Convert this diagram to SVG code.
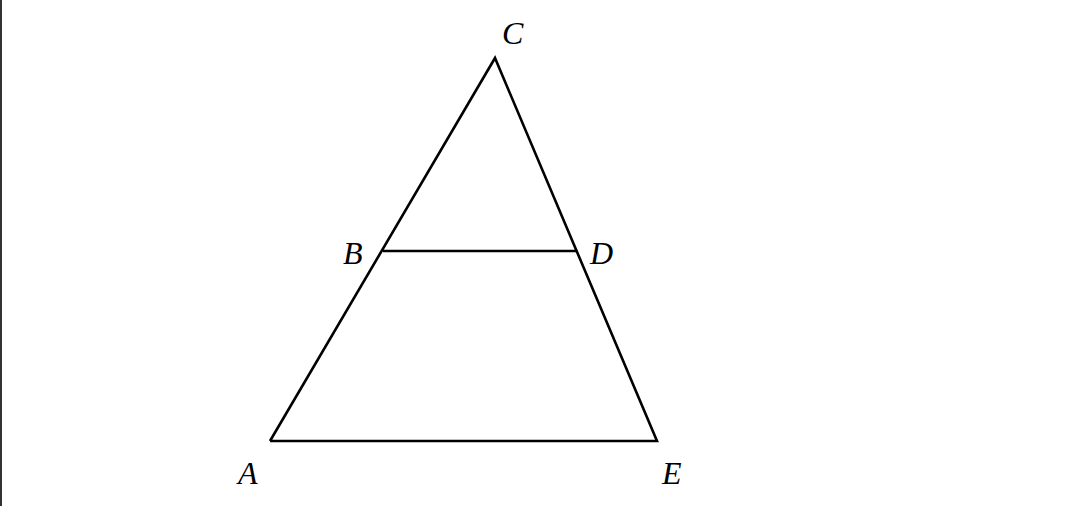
<svg xmlns="http://www.w3.org/2000/svg" width="1080" height="517" viewBox="0 0 1080 517">
<style>
.l{stroke:#000;stroke-width:2.6;fill:none;stroke-linejoin:miter}
.t{font-family:"Liberation Serif","Times New Roman",serif;font-style:italic;font-size:32px;fill:#000}
</style>
<rect width="1080" height="517" fill="#fff"/>
<line x1="1" y1="0" x2="1" y2="506" stroke="#333" stroke-width="2"/>
<g id="edges">
<polyline class="l" points="270,441 495,58 657,441 270,441"/>
<line class="l" x1="383" y1="251" x2="577" y2="251"/>
</g>
<g id="C"><text class="t" x="502" y="44">C</text></g>
<g id="B"><text class="t" x="343" y="264">B</text></g>
<g id="D"><text class="t" x="590" y="264">D</text></g>
<g id="A"><text class="t" x="238" y="484">A</text></g>
<g id="E"><text class="t" x="662" y="484">E</text></g>
</svg>
